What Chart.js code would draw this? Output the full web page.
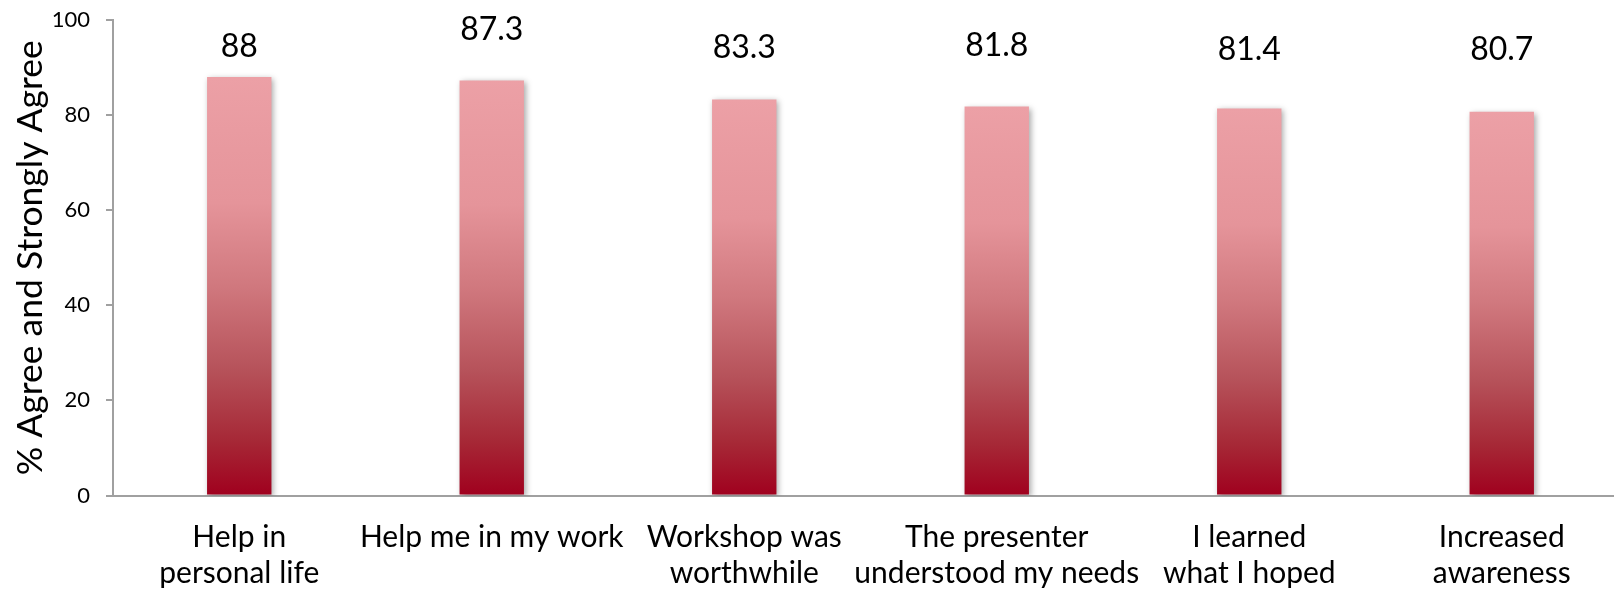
<!DOCTYPE html>
<html>
<head>
<meta charset="utf-8">
<script src="https://cdn.jsdelivr.net/npm/chart.js@4"></script>
<style>
  html, body { margin: 0; padding: 0; background: #fff; overflow: hidden; }
  #wrap { width: 1614px; height: 593px; overflow: hidden; }
</style>
</head>
<body>
<div id="wrap"><canvas id="surveyChart" width="1628" height="593"></canvas></div>
<script>
const categories = [
  ["Help in", "personal life"],
  "Help me in my work",
  ["Workshop was", "worthwhile"],
  ["The presenter", "understood my needs"],
  ["I learned", "what I hoped"],
  ["Increased", "awareness"]
];
const agreeValues = [88, 87.3, 83.3, 81.8, 81.4, 80.7];
const yTicks = [0, 20, 40, 60, 80, 100];

const axisGray = "#a0a0a0";

function barGradient(context) {
  const chart = context.chart;
  const { ctx, chartArea, scales } = chart;
  if (!chartArea) return "#d07078";
  const v = context.raw;
  const top = scales.y.getPixelForValue(v);
  const bottom = scales.y.getPixelForValue(0);
  const g = ctx.createLinearGradient(0, top, 0, bottom);
  g.addColorStop(0, "rgb(236,160,166)");
  g.addColorStop(0.3, "rgb(229,148,154)");
  g.addColorStop(0.5, "rgb(208,120,126)");
  g.addColorStop(0.7, "rgb(182,82,90)");
  g.addColorStop(0.87, "rgb(166,40,54)");
  g.addColorStop(1, "rgb(160,0,30)");
  return g;
}

// soft shadow like the original office chart
const barShadow = {
  id: "barShadow",
  beforeDatasetsDraw(chart) {
    const ctx = chart.ctx;
    ctx.save();
    ctx.shadowColor = "rgba(0,0,0,0.35)";
    ctx.shadowBlur = 6;
    ctx.shadowOffsetX = 2;
    ctx.shadowOffsetY = 2;
  },
  afterDatasetsDraw(chart) {
    chart.ctx.restore();
  }
};

// value labels floating above the bars
const valueLabels = {
  id: "valueLabels",
  afterDatasetsDraw(chart, args, opts) {
    const ctx = chart.ctx;
    const meta = chart.getDatasetMeta(0);
    const y = chart.scales.y;
    ctx.save();
    ctx.font = opts.font;
    ctx.fillStyle = "#000";
    ctx.textAlign = "center";
    ctx.textBaseline = "middle";
    meta.data.forEach((bar, i) => {
      const lift = opts.lift[i] || 0;
      ctx.fillText(String(agreeValues[i]), bar.x, y.getPixelForValue(opts.at) - lift);
    });
    ctx.restore();
  }
};

const ctx = document.getElementById("surveyChart").getContext("2d");

new Chart(ctx, {
  type: "bar",
  data: {
    labels: categories,
    datasets: [{
      label: "% Agree and Strongly Agree",
      data: agreeValues,
      backgroundColor: barGradient,
      borderWidth: 0,
      barPercentage: 0.255,
      categoryPercentage: 1
    }]
  },
  options: {
    responsive: false,
    animation: false,
    layout: { padding: { top: 20, right: 0, bottom: 0, left: 0 } },
    plugins: {
      legend: { display: false },
      tooltip: { enabled: false },
      valueLabels: { font: "32px Lato", at: 94.3, lift: [0, 17, -1, 1, -3, -3] }
    },
    scales: {
      x: {
        grid: { display: false, drawTicks: false },
        border: { display: true, color: axisGray, width: 2 },
        ticks: {
          color: "#000",
          font: { family: "Lato", size: 30, lineHeight: 1.2 },
          padding: 24,
          maxRotation: 0,
          autoSkip: false
        },
        afterFit(scale) { scale.height = 97.5; }
      },
      y: {
        min: 0,
        max: 100,
        afterBuildTicks(scale) { scale.ticks = yTicks.map(v => ({ value: v })); },
        grid: { display: true, drawOnChartArea: false, drawTicks: true, tickLength: 7, color: axisGray, lineWidth: 2 },
        border: { display: true, color: axisGray, width: 2 },
        ticks: {
          color: "#000",
          font: { family: "Lato", size: 22 },
          padding: 16
        },
        title: {
          display: true,
          text: "% Agree and Strongly Agree",
          color: "#000",
          font: { family: "Lato", size: 35.5 },
          padding: { top: 9, bottom: 0 }
        },
        afterFit(scale) {
          scale.width = 113;
          scale.paddingTop = 0;
          scale.paddingBottom = 0;
        }
      }
    }
  },
  plugins: [barShadow, valueLabels]
});
</script>
</body>
</html>
